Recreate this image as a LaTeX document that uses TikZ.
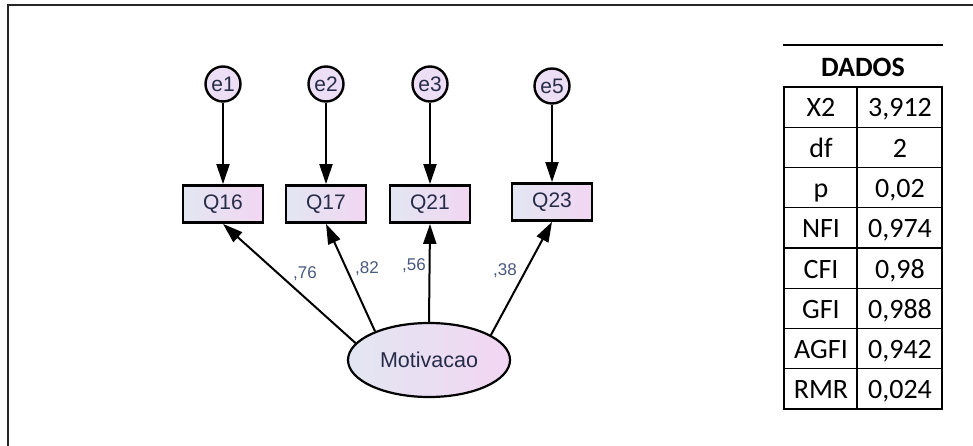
\documentclass[tikz,border=0pt]{standalone}
\usepackage{fontspec}
\setmainfont{Liberation Sans}
\newfontfamily\calibri{Carlito}
\usetikzlibrary{arrows.meta,shapes.geometric}

\definecolor{amostext}{RGB}{38,44,72}
\definecolor{amoslabel}{RGB}{72,88,128}
\definecolor{fillleft}{RGB}{226,230,242}
\definecolor{fillright}{RGB}{242,214,242}
\definecolor{errfill}{RGB}{236,222,244}

\begin{document}
\begin{tikzpicture}[x=1pt,y=-1pt]
        \tikzstyle{obs}=[draw,line width=2.8pt,rectangle,left color=fillleft,right color=fillright,minimum width=80pt,minimum height=37pt,inner sep=0pt,text=amostext,font=\fontsize{21}{23}\selectfont]
        \tikzstyle{err}=[draw,line width=2.4pt,circle,fill=errfill,minimum size=35pt,inner sep=0pt,text=amostext,font=\fontsize{21}{23}\selectfont]
        \tikzstyle{lat}=[draw,line width=2.2pt,ellipse,left color=fillleft,right color=fillright,minimum width=162pt,minimum height=74pt,inner sep=0pt,text=amostext,font=\fontsize{21.5}{24}\selectfont]
        \tikzstyle{arr}=[line width=2pt,-{Triangle[length=20pt,width=13pt]}]
        \tikzstyle{coef}=[anchor=base,inner sep=0pt,text=amoslabel,font=\fontsize{17}{19}\selectfont]
        \tikzstyle{tab}=[line width=1.3pt]
        \tikzstyle{cell}=[anchor=base,inner sep=0pt,font=\calibri\fontsize{28}{30}\selectfont]

        \useasboundingbox (0,0) rectangle (973,446);
        \draw[line width=2.5pt,black!85] (8,446) -- (8,5) -- (973,5);

        % error terms
        \draw (223,84) node[err] (e1) {e1};
        \draw (326,84) node[err] (e2) {e2};
        \draw (430,84) node[err] (e3) {e3};
        \draw (552,86) node[err] (e5) {e5};

        % observed items
        \draw (223,204) node[obs] (q16) {Q16};
        \draw (326,204) node[obs] (q17) {Q17};
        \draw (430,204) node[obs] (q21) {Q21};
        \draw (552,202) node[obs] (q23) {Q23};

        % latent factor
        \draw (429,360) node[lat] (mot) {Motivacao};

        \draw[arr] (e1) -- (q16);
        \draw[arr] (e2) -- (q17);
        \draw[arr] (e3) -- (q21);
        \draw[arr] (e5) -- (q23);

        \draw[arr] (mot.167) -- (q16.south);
        \draw[arr] (mot.152) -- (q17.south);
        \draw[arr] (mot.north) -- (q21.south);
        \draw[arr] (mot.22) -- (q23.south);

        \draw (305,278) node[coef] (c16) {,76};
        \draw (367,273) node[coef] (c17) {,82};
        \draw (414,270) node[coef] (c21) {,56};
        \draw (505,275) node[coef] (c23) {,38};

        % fit indices
        \draw[line width=2pt] (783,45) -- (943,45);
        \draw (863,77) node[cell,font=\calibri\bfseries\fontsize{28}{30}\selectfont] (head) {DADOS};

        \draw[tab] (784,87) rectangle (942,409);
        \draw[tab] (857,87) -- (857,409);
        \draw[tab] (784,127.25) -- (942,127.25);
        \draw[tab] (784,167.5) -- (942,167.5);
        \draw[tab] (784,207.75) -- (942,207.75);
        \draw[tab] (784,248) -- (942,248);
        \draw[tab] (784,288.25) -- (942,288.25);
        \draw[tab] (784,328.5) -- (942,328.5);
        \draw[tab] (784,368.75) -- (942,368.75);

        \draw (821,117) node[cell] (r1a) {X2};
        \draw (900,117) node[cell] (r1b) {3,912};
        \draw (821,157.25) node[cell] (r2a) {df};
        \draw (900,157.25) node[cell] (r2b) {2};
        \draw (821,197.5) node[cell] (r3a) {p};
        \draw (900,197.5) node[cell] (r3b) {0,02};
        \draw (821,237.75) node[cell] (r4a) {NFI};
        \draw (900,237.75) node[cell] (r4b) {0,974};
        \draw (821,278) node[cell] (r5a) {CFI};
        \draw (900,278) node[cell] (r5b) {0,98};
        \draw (821,318.25) node[cell] (r6a) {GFI};
        \draw (900,318.25) node[cell] (r6b) {0,988};
        \draw (821,358.5) node[cell] (r7a) {AGFI};
        \draw (900,358.5) node[cell] (r7b) {0,942};
        \draw (821,398.75) node[cell] (r8a) {RMR};
        \draw (900,398.75) node[cell] (r8b) {0,024};

    \end{tikzpicture}
\end{document}
